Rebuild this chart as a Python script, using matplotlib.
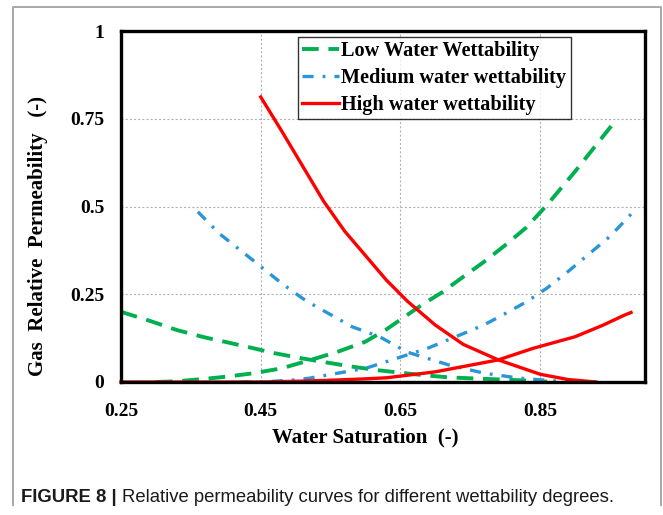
import matplotlib
matplotlib.use("Agg")
import matplotlib.pyplot as plt
from matplotlib.lines import Line2D

plt.rcParams["lines.scale_dashes"] = False

# Low water wettability
low_gas_sw = [0.25, 0.29, 0.33, 0.37, 0.40, 0.44, 0.47, 0.51, 0.54, 0.58, 0.62, 0.68, 0.72, 0.77, 0.82, 0.86]
low_gas_kr = [0.200, 0.175, 0.148, 0.127, 0.114, 0.096, 0.082, 0.067, 0.057, 0.044, 0.033, 0.020, 0.013, 0.009, 0.005, 0.001]
low_wat_sw = [0.30, 0.33, 0.37, 0.40, 0.44, 0.48, 0.52, 0.56, 0.60, 0.63, 0.68, 0.71, 0.74, 0.77, 0.80, 0.83, 0.86, 0.90, 0.93, 0.96]
low_wat_kr = [0.0, 0.002, 0.009, 0.015, 0.025, 0.039, 0.062, 0.086, 0.115, 0.150, 0.219, 0.256, 0.300, 0.343, 0.390, 0.440, 0.505, 0.600, 0.675, 0.750]

# Medium water wettability
med_gas_sw = [0.36, 0.39, 0.435, 0.48, 0.51, 0.53, 0.56, 0.58, 0.62, 0.66, 0.72, 0.77, 0.82, 0.87, 0.895]
med_gas_kr = [0.485, 0.424, 0.353, 0.281, 0.238, 0.214, 0.181, 0.158, 0.129, 0.085, 0.048, 0.025, 0.011, 0.003, 0.0]
med_wat_sw = [0.42, 0.46, 0.50, 0.52, 0.56, 0.60, 0.63, 0.69, 0.74, 0.77, 0.80, 0.83, 0.86, 0.89, 0.92, 0.95, 0.98]
med_wat_kr = [0.0, 0.001, 0.006, 0.011, 0.025, 0.039, 0.058, 0.097, 0.138, 0.163, 0.195, 0.228, 0.268, 0.315, 0.365, 0.415, 0.478]

# High water wettability
high_gas_sw = [0.45, 0.48, 0.51, 0.54, 0.57, 0.60, 0.63, 0.66, 0.70, 0.74, 0.79, 0.85, 0.89, 0.93]
high_gas_kr = [0.812, 0.715, 0.615, 0.515, 0.430, 0.360, 0.290, 0.230, 0.162, 0.107, 0.063, 0.022, 0.007, 0.0]
high_wat_sw = [0.25, 0.45, 0.50, 0.55, 0.60, 0.63, 0.70, 0.79, 0.84, 0.90, 0.94, 0.97, 0.98]
high_wat_kr = [0.0, 0.0, 0.002, 0.005, 0.009, 0.012, 0.029, 0.063, 0.096, 0.129, 0.162, 0.190, 0.198]

x_ticks = [0.25, 0.45, 0.65, 0.85]
y_ticks = [0, 0.25, 0.5, 0.75, 1]
y_tick_labels = ["0", "0.25", "0.5", "0.75", "1"]
labels = ["Low Water Wettability", "Medium water wettability", "High water wettability"]

GREEN = "#00B050"
BLUE = "#2A96D8"
RED = "#FF0000"
SERIF = "Liberation Serif"

W, H = 663, 515
fig = plt.figure(figsize=(W / 100, H / 100), dpi=100)
ax = fig.add_axes([121 / W, 1 - 382 / H, 524 / W, 351 / H])

green_ls = (0, (12.0, 7.0))
blue_ls = (0, (8.0, 6.5, 2.0, 6.5))

ax.plot(low_gas_sw, low_gas_kr, color=GREEN, lw=2.8, ls=green_ls, label=labels[0])
ax.plot(low_wat_sw, low_wat_kr, color=GREEN, lw=2.8, ls=green_ls)
ax.plot(med_gas_sw, med_gas_kr, color=BLUE, lw=2.4, ls=blue_ls, label=labels[1])
ax.plot(med_wat_sw, med_wat_kr, color=BLUE, lw=2.4, ls=blue_ls)
ax.plot(high_gas_sw, high_gas_kr, color=RED, lw=2.4, label=labels[2])
ax.plot(high_wat_sw, high_wat_kr, color=RED, lw=2.4, clip_on=False)

ax.set_xlim(0.25, 1.0)
ax.set_ylim(0, 1)
ax.set_xticks(x_ticks)
ax.set_xticklabels([f"{v:.2f}" for v in x_ticks])
ax.set_yticks(y_ticks)
ax.set_yticklabels(y_tick_labels)
ax.tick_params(length=0, labelsize=14)
ax.tick_params(axis="y", pad=12)
ax.tick_params(axis="x", pad=15)
for lab in ax.get_xticklabels() + ax.get_yticklabels():
    lab.set_fontfamily(SERIF)
    lab.set_fontweight("bold")

ax.grid(True, color="#B0B0B0", ls=(0, (1.5, 1.5)), lw=0.8)
ax.set_axisbelow(True)
for sp in ax.spines.values():
    sp.set_linewidth(2.4)
    sp.set_color("black")

leg = ax.legend(loc="upper left", bbox_to_anchor=((298 - 121) / 524, (382 - 37) / 351),
                borderaxespad=0, frameon=True, fancybox=False, shadow=False,
                prop={"family": SERIF, "weight": "bold", "size": 14.6},
                handlelength=1.8, handletextpad=0.12, borderpad=0.22, labelspacing=0.33)
leg.get_frame().set_edgecolor("black")
leg.get_frame().set_linewidth(1.0)

fig.text(38 / W, 1 - 236 / H, "Gas  Relative  Permeability   (-)", rotation=90,
         ha="center", va="center", family=SERIF, weight="bold", size=15)
fig.text(365 / W, 1 - 437 / H, "Water Saturation  (-)",
         ha="center", va="center", family=SERIF, weight="bold", size=15)

# outer frame of the figure panel
fig.add_artist(Line2D([13 / W, 13 / W, 661 / W, 661 / W],
                      [1 - 505 / H, 1 - 7 / H, 1 - 7 / H, 1 - 505 / H],
                      color="#A8A8A8", lw=1.4))

# caption: bold label then regular text
cap1 = fig.text(21 / W, 1 - 497 / H, "FIGURE 8 | ", ha="left", va="center",
                family="Liberation Sans", weight="bold", size=13.3, color="#1A1A1A")
renderer = fig.canvas.get_renderer()
bb = cap1.get_window_extent(renderer)
fig.text(bb.x1 / W, 1 - 497 / H, "Relative permeability curves for different wettability degrees.",
         ha="left", va="center", family="Liberation Sans", size=13.3, color="#1A1A1A")

fig.savefig("out.png", dpi=100)
